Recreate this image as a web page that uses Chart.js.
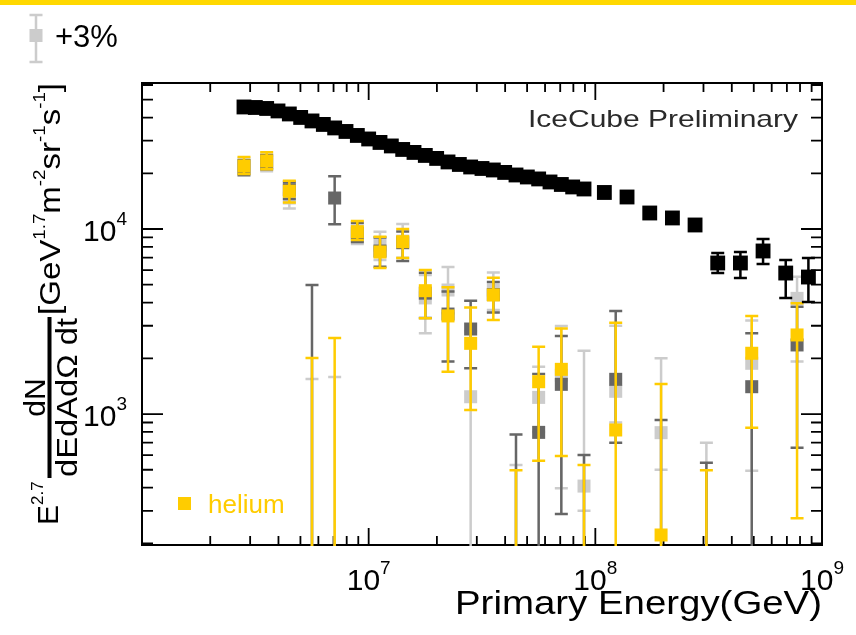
<!DOCTYPE html>
<html>
<head>
<meta charset="utf-8">
<script src="https://cdn.jsdelivr.net/npm/chart.js@4.4.1/dist/chart.umd.min.js"></script>
<style>
  html, body { margin: 0; padding: 0; background: #fff; }
  #wrap { position: relative; width: 856px; height: 635px; }
</style>
</head>
<body>
<div id="wrap"><canvas id="chart" width="856" height="635"></canvas></div>
<script>
const FONT = '"Liberation Sans", Arial, Helvetica, sans-serif';

// all-particle flux (black): 0.05 decade bins below 1e8 GeV, 0.1 decade above
const allEnergy = [2.818e6, 3.162e6, 3.548e6, 3.981e6, 4.467e6, 5.012e6, 5.623e6, 6.310e6, 7.079e6, 7.943e6,
  8.913e6, 1.000e7, 1.122e7, 1.259e7, 1.413e7, 1.585e7, 1.778e7, 1.995e7, 2.239e7, 2.512e7,
  2.818e7, 3.162e7, 3.548e7, 3.981e7, 4.467e7, 5.012e7, 5.623e7, 6.310e7, 7.079e7, 7.943e7,
  8.913e7, 1.096e8, 1.380e8, 1.738e8, 2.188e8, 2.754e8, 3.467e8, 4.365e8, 5.495e8, 6.918e8, 8.710e8];
const allFlux = [45640, 45350, 44800, 43440, 41840, 40060, 38360, 36720, 35160, 33650,
  32020, 30650, 29350, 28100, 26900, 25920, 24970, 24060, 23030, 22320,
  21630, 21230, 20840, 20210, 19580, 19100, 18640, 17950, 17400, 16870,
  16450, 15750, 14890, 12200, 11470, 10510, 6550, 6550, 7605, 5780, 5500];
const allHi = [null, null, null, null, null, null, null, null, null, null,
  null, null, null, null, null, null, null, null, null, null,
  null, null, null, null, null, null, null, null, null, null,
  null, null, null, null, null, null, 7410, 7510, 8830, 6800, 6970];
const allLo = [null, null, null, null, null, null, null, null, null, null,
  null, null, null, null, null, null, null, null, null, null,
  null, null, null, null, null, null, null, null, null, null,
  null, null, null, null, null, null, 5780, 5430, 6470, 4240, 4030];

// composition bins (helium and the two shifted versions)
const compEnergy = [2.818e6, 3.548e6, 4.467e6, 5.623e6, 7.079e6, 8.913e6, 1.122e7, 1.413e7, 1.778e7, 2.239e7,
  2.818e7, 3.548e7, 4.467e7, 5.623e7, 7.079e7, 8.913e7, 1.230e8, 1.950e8, 3.090e8, 4.898e8, 7.762e8];

const heliumFlux = [21900, 23300, 16000, null, null, 9670, 7510, 8540, 4640, 3390,
  2410, 4400, null, 1495, 1744, null, 820, 222, null, 2130, 2675];
const heliumHi = [24500, 26000, 18200, 2010, 2575, 11050, 9080, 10000, 6000, 4840,
  3770, 5450, 497, 2310, 2900, 530, 3117, 1452, 497, 3390, 3966];
const heliumLo = [19800, 21000, 13900, null, null, 8720, 6150, 6970, 3290, 1690,
  1050, 3220, null, 560, 593, null, null, null, null, 843, 273];

const grayFlux = [21400, 23000, 16300, null, 14700, 9500, 7600, 8430, 4500, 3470,
  2880, 4420, null, 796, 1447, null, 1540, null, null, 1405, 2362];
const grayHi = [23500, 25000, 18000, 4980, 19300, 10800, 9000, 9700, 5800, 4600,
  4100, 5170, 776, 1645, 2640, 600, 3600, 928, 546, 2730, 3804];
const grayLo = [19500, 21000, 14500, null, 10600, 8500, 6250, 6710, 3300, 1920,
  1770, 3540, null, null, 288, null, 700, null, null, null, 658];

const plus3Flux = [21900, 22500, 14700, null, null, 9160, 8190, 8600, 4240, 4680,
  1240, 4680, null, 1230, 1620, 408, 1327, 793, null, 1880, 4218];
const plus3Hi = [24000, 25500, 17500, 1545, 1585, 10500, 9670, 10640, 5640, 6230,
  2800, 5820, 530, 1800, 2990, 2200, 3000, 2000, 700, 3200, 5520];
const plus3Lo = [20000, 20500, 12900, null, null, 8300, 6800, 7000, 2730, 3500,
  null, 3650, null, 800, 397, 300, 900, 500, null, 494, 1920];

// axis ticks
const xMajorTicks = [1e7, 1e8];
const xMinorTicks = [2e6, 3e6, 4e6, 5e6, 6e6, 7e6, 8e6, 9e6,
  2e7, 3e7, 4e7, 5e7, 6e7, 7e7, 8e7, 9e7,
  2e8, 3e8, 4e8, 5e8, 6e8, 7e8, 8e8, 9e8];
const yMajorTicks = [1e3, 1e4];
const yMinorTicks = [200, 300, 400, 500, 600, 700, 800, 900,
  2e3, 3e3, 4e3, 5e3, 6e3, 7e3, 8e3, 9e3,
  2e4, 3e4, 4e4, 5e4, 6e4];
const xLabelValues = [1e7, 1e8, 1e9];
const xLabelExps = ['7', '8', '9'];
const yLabelValues = [1e3, 1e4];
const yLabelExps = ['3', '4'];

const YELLOW = '#ffcc00';
const DARK = '#666666';
const LIGHT = '#cccccc';

function toPoints(xs, ys) {
  const out = [];
  for (let i = 0; i < xs.length; i++) {
    if (ys[i] != null) out.push({ x: xs[i], y: ys[i] });
  }
  return out;
}

function toErrors(xs, his, los) {
  const out = [];
  for (let i = 0; i < xs.length; i++) {
    if (his[i] != null) out.push({ x: xs[i], hi: his[i], lo: los[i] });
  }
  return out;
}

function drawPieces(ctx, pieces, x, y, targetWidth) {
  // pieces: [text, size, rise]
  let w = 0;
  for (const p of pieces) {
    ctx.font = p[1] + 'px ' + FONT;
    w += ctx.measureText(p[0]).width;
  }
  const sx = targetWidth ? targetWidth / w : 1;
  ctx.save();
  ctx.translate(x, y);
  ctx.scale(sx, 1);
  let cx = 0;
  for (const p of pieces) {
    ctx.font = p[1] + 'px ' + FONT;
    ctx.fillText(p[0], cx, -p[2]);
    cx += ctx.measureText(p[0]).width;
  }
  ctx.restore();
  return w * sx;
}

function drawErrBar(ctx, px, top, bot, capTop, capBot) {
  ctx.beginPath();
  ctx.moveTo(px, top);
  ctx.lineTo(px, bot);
  if (capTop) { ctx.moveTo(px - 6.5, top); ctx.lineTo(px + 6.5, top); }
  if (capBot) { ctx.moveTo(px - 6.5, bot); ctx.lineTo(px + 6.5, bot); }
  ctx.stroke();
}

const errorBars = {
  id: 'errorBars',
  beforeDatasetDraw(chart, args) {
    const ds = chart.data.datasets[args.index];
    if (!ds.errors) return;
    const { ctx, chartArea: a } = chart;
    const x = chart.scales.x;
    const y = chart.scales.y;
    ctx.save();
    ctx.beginPath();
    ctx.rect(a.left - 10, a.top, a.right - a.left + 20, a.bottom - a.top + 1);
    ctx.clip();
    ctx.strokeStyle = ds.backgroundColor;
    ctx.lineWidth = 2.5;
    for (const e of ds.errors) {
      const px = x.getPixelForValue(e.x);
      const top = y.getPixelForValue(e.hi);
      const bot = e.lo == null ? a.bottom + 1 : y.getPixelForValue(e.lo);
      drawErrBar(ctx, px, top, bot, true, e.lo != null);
    }
    ctx.restore();
  }
};

const frame = {
  id: 'frame',
  beforeDatasetsDraw(chart) {
    const { ctx, chartArea: a } = chart;
    const x = chart.scales.x;
    const y = chart.scales.y;
    ctx.save();
    ctx.fillStyle = '#ffd800';
    ctx.fillRect(0, 0, chart.width, 5);

    ctx.strokeStyle = '#000';
    ctx.lineWidth = 2;
    ctx.strokeRect(a.left, a.top, a.right - a.left, a.bottom - a.top);

    ctx.lineWidth = 1.8;
    ctx.beginPath();
    const xt = xMinorTicks.map(v => [v, 9]).concat(xMajorTicks.map(v => [v, 17]));
    for (const [v, len] of xt) {
      const px = x.getPixelForValue(v);
      ctx.moveTo(px, a.bottom);
      ctx.lineTo(px, a.bottom - len);
      ctx.moveTo(px, a.top);
      ctx.lineTo(px, a.top + len);
    }
    const yt = yMinorTicks.map(v => [v, 11]).concat(yMajorTicks.map(v => [v, 21]));
    for (const [v, len] of yt) {
      const py = y.getPixelForValue(v);
      ctx.moveTo(a.left, py);
      ctx.lineTo(a.left + len, py);
      ctx.moveTo(a.right, py);
      ctx.lineTo(a.right - len, py);
    }
    ctx.stroke();
    ctx.restore();
  },
  afterDraw(chart) {
    const { ctx } = chart;
    const x = chart.scales.x;
    const y = chart.scales.y;
    ctx.save();
    ctx.fillStyle = '#000';
    ctx.textBaseline = 'alphabetic';

    // tick labels 10^n
    for (let i = 0; i < xLabelValues.length; i++) {
      const px = x.getPixelForValue(xLabelValues[i]);
      ctx.font = '30px ' + FONT;
      const w1 = ctx.measureText('10').width;
      ctx.font = '19px ' + FONT;
      const w2 = ctx.measureText(xLabelExps[i]).width;
      drawPieces(ctx, [['10', 30, 0], [xLabelExps[i], 19, 16]], px - (w1 + w2) / 2, 590);
    }
    for (let i = 0; i < yLabelValues.length; i++) {
      const py = y.getPixelForValue(yLabelValues[i]);
      ctx.font = '30px ' + FONT;
      const w1 = ctx.measureText('10').width;
      ctx.font = '19px ' + FONT;
      const w2 = ctx.measureText(yLabelExps[i]).width;
      drawPieces(ctx, [['10', 30, 0], [yLabelExps[i], 19, 16]], 127 - w1 - w2, py + 12);
    }

    // x title
    drawPieces(ctx, [['Primary Energy(GeV)', 33, 0]], 455, 614, 367);

    // y title, rotated
    ctx.save();
    ctx.translate(0, 525);
    ctx.rotate(-Math.PI / 2);
    drawPieces(ctx, [['E', 30, 0], ['2.7', 17, 15]], 0, 58);
    ctx.fillRect(47, 47.5, 161, 4);
    ctx.font = '30px ' + FONT;
    const wn = ctx.measureText('dN').width;
    drawPieces(ctx, [['dN', 30, 0]], 127.5 - wn / 2, 45);
    drawPieces(ctx, [['dEdAd\u03A9 dt', 30, 0]], 48, 77, 159);
    drawPieces(ctx, [['[GeV', 30, 0], ['1.7', 17, 15], ['m', 30, 0], ['-2', 17, 15], ['sr', 30, 0],
      ['-1', 17, 15], ['s', 30, 0], ['-1', 17, 15], [']', 30, 0]], 210, 60, 232);
    ctx.restore();

    // annotation
    ctx.fillStyle = '#2a2a2a';
    drawPieces(ctx, [['IceCube Preliminary', 24, 0]], 528, 127, 270);

    // legend entries
    ctx.fillStyle = '#000';
    drawPieces(ctx, [['+3%', 31, 0]], 55, 47);
    ctx.strokeStyle = LIGHT;
    ctx.lineWidth = 2.5;
    drawErrBar(ctx, 36, 15, 62, true, true);
    ctx.fillStyle = LIGHT;
    ctx.fillRect(29.5, 29, 13, 13);

    ctx.fillStyle = YELLOW;
    ctx.fillRect(178, 497, 13, 13);
    drawPieces(ctx, [['helium', 26, 0]], 208, 513);
    ctx.restore();
  }
};

function squares(radius) {
  return { pointStyle: 'rect', pointRadius: radius, pointBorderWidth: 0, showLine: false };
}

new Chart(document.getElementById('chart'), {
  type: 'scatter',
  data: {
    datasets: [
      Object.assign({ label: 'all', data: toPoints(allEnergy, allFlux),
        errors: toErrors(allEnergy, allHi, allLo), backgroundColor: '#000', borderColor: '#000' }, squares(10.5)),
      Object.assign({ label: 'helium', data: toPoints(compEnergy, heliumFlux),
        errors: toErrors(compEnergy, heliumHi, heliumLo), backgroundColor: YELLOW, borderColor: YELLOW }, squares(9.2)),
      Object.assign({ label: '-3%', data: toPoints(compEnergy, grayFlux),
        errors: toErrors(compEnergy, grayHi, grayLo), backgroundColor: DARK, borderColor: DARK }, squares(9.2)),
      Object.assign({ label: '+3%', data: toPoints(compEnergy, plus3Flux),
        errors: toErrors(compEnergy, plus3Hi, plus3Lo), backgroundColor: LIGHT, borderColor: LIGHT }, squares(9.2))
    ]
  },
  options: {
    responsive: false,
    devicePixelRatio: 1,
    animation: false,
    events: [],
    layout: { padding: { left: 142, right: 34, top: 83, bottom: 90 } },
    scales: {
      x: { type: 'logarithmic', min: 1e6, max: 1e9, display: false },
      y: { type: 'logarithmic', min: 196, max: 61500, display: false }
    },
    plugins: {
      legend: { display: false },
      tooltip: { enabled: false }
    }
  },
  plugins: [frame, errorBars]
});
</script>
</body>
</html>
